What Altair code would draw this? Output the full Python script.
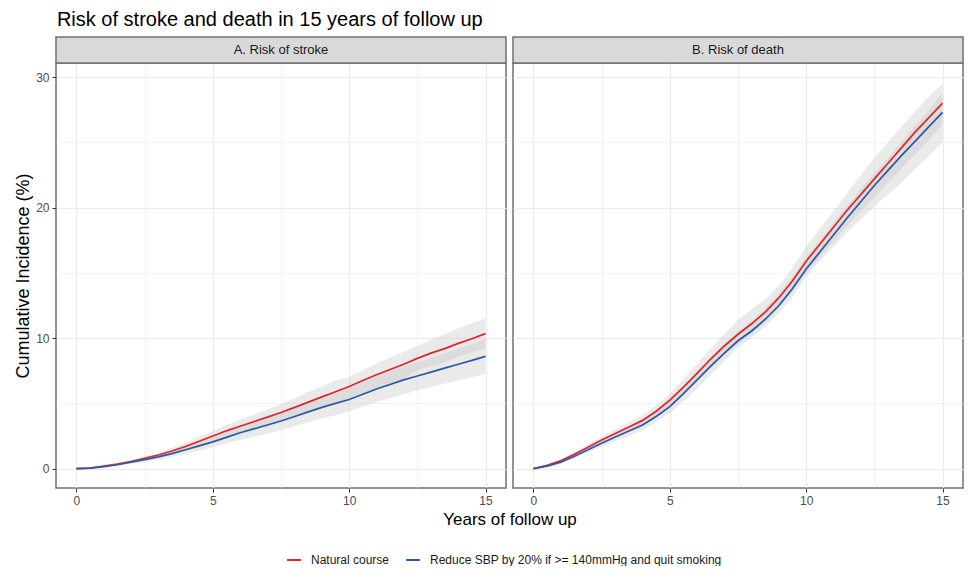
import altair as alt
import pandas as pd

FONT = "Liberation Sans"

years = [0, 0.5, 1, 1.5, 2, 2.5, 3, 3.5, 4, 4.5, 5, 5.5, 6, 6.5, 7, 7.5,
         8, 8.5, 9, 9.5, 10, 10.5, 11, 11.5, 12, 12.5, 13, 13.5, 14, 14.5, 15]

series_names = ["Natural course", "Reduce SBP by 20% if >= 140mmHg and quit smoking"]
panel_names = ["A. Risk of stroke", "B. Risk of death"]

# Panel A: risk of stroke
stroke_nat = [0, 0.05, 0.2, 0.35, 0.55, 0.8, 1.05, 1.35, 1.7, 2.1, 2.5, 2.9, 3.25, 3.6, 3.95, 4.3,
              4.7, 5.1, 5.5, 5.9, 6.3, 6.75, 7.2, 7.6, 8.0, 8.45, 8.85, 9.2, 9.6, 9.95, 10.35]
stroke_nat_lo = [0, 0.03, 0.15, 0.27, 0.45, 0.66, 0.87, 1.12, 1.42, 1.76, 2.12, 2.47, 2.76, 3.06, 3.36, 3.66,
                 4.0, 4.33, 4.7, 5.03, 5.38, 5.75, 6.15, 6.5, 6.85, 7.55, 7.85, 8.15, 8.55, 8.9, 9.25]
stroke_nat_hi = [0, 0.07, 0.25, 0.43, 0.65, 0.94, 1.23, 1.58, 1.98, 2.44, 2.88, 3.33, 3.74, 4.14, 4.54, 4.94,
                 5.4, 5.87, 6.3, 6.77, 7.0, 7.55, 8.05, 8.5, 8.95, 9.4, 9.9, 10.3, 10.75, 11.15, 11.5]
stroke_red = [0, 0.04, 0.15, 0.3, 0.5, 0.7, 0.9, 1.15, 1.45, 1.75, 2.05, 2.4, 2.75, 3.05, 3.35, 3.65,
              4.0, 4.35, 4.7, 5.0, 5.3, 5.7, 6.1, 6.45, 6.8, 7.1, 7.4, 7.7, 8.0, 8.3, 8.6]
stroke_red_lo = [0, 0.02, 0.1, 0.22, 0.38, 0.54, 0.7, 0.9, 1.15, 1.4, 1.65, 1.95, 2.2, 2.45, 2.7, 2.95,
                 3.25, 3.55, 3.85, 4.1, 4.4, 4.75, 5.1, 5.4, 5.7, 6.0, 6.25, 6.5, 6.75, 7.0, 7.25]
stroke_red_hi = [0, 0.06, 0.2, 0.38, 0.62, 0.86, 1.1, 1.4, 1.75, 2.1, 2.45, 2.85, 3.25, 3.6, 3.95, 4.3,
                 4.7, 5.1, 5.5, 5.85, 6.2, 6.65, 7.1, 7.5, 7.85, 8.15, 8.5, 8.85, 9.2, 9.55, 9.9]

# Panel B: risk of death
death_nat = [0, 0.25, 0.6, 1.1, 1.65, 2.2, 2.7, 3.2, 3.7, 4.4, 5.25, 6.25, 7.3, 8.4, 9.4, 10.3,
             11.1, 12.0, 13.1, 14.4, 15.9, 17.2, 18.5, 19.8, 21.0, 22.2, 23.4, 24.6, 25.8, 26.9, 28.0]
death_nat_lo = [0, 0.18, 0.48, 0.95, 1.45, 1.95, 2.4, 2.85, 3.3, 3.95, 4.75, 5.7, 6.7, 7.75, 8.7, 9.55,
                10.35, 11.2, 12.3, 13.55, 15.0, 16.2, 17.4, 18.6, 19.7, 20.8, 21.9, 23.0, 24.1, 25.2, 26.4]
death_nat_hi = [0, 0.32, 0.72, 1.25, 1.85, 2.45, 3.0, 3.55, 4.1, 4.85, 5.75, 6.85, 8.0, 9.2, 10.3, 11.4,
                12.2, 13.0, 14.0, 15.4, 17.0, 18.4, 19.7, 21.1, 22.5, 23.8, 25.0, 26.2, 27.4, 28.5, 29.5]
death_red = [0, 0.2, 0.5, 0.95, 1.45, 1.95, 2.42, 2.88, 3.35, 4.0, 4.75, 5.75, 6.8, 7.85, 8.85, 9.8,
             10.55, 11.45, 12.5, 13.8, 15.3, 16.6, 17.9, 19.2, 20.45, 21.7, 22.85, 24.0, 25.1, 26.2, 27.3]
death_red_lo = [0, 0.14, 0.38, 0.78, 1.22, 1.68, 2.1, 2.5, 2.95, 3.55, 4.25, 5.15, 6.15, 7.2, 8.25, 9.3,
                10.05, 10.9, 11.9, 13.15, 14.7, 15.9, 17.0, 18.1, 19.1, 20.1, 21.0, 21.95, 22.95, 23.95, 25.0]
death_red_hi = [0, 0.26, 0.62, 1.12, 1.68, 2.22, 2.74, 3.26, 3.75, 4.45, 5.25, 6.35, 7.45, 8.6, 9.55, 10.5,
                11.3, 12.3, 13.4, 14.7, 16.2, 17.5, 18.8, 20.1, 21.4, 22.6, 23.8, 25.0, 26.3, 27.5, 28.8]

RED = "#E0262B"
BLUE = "#2A59A6"

rows = []
panel_data = [
    (panel_names[0], [(series_names[0], stroke_nat, stroke_nat_lo, stroke_nat_hi),
                      (series_names[1], stroke_red, stroke_red_lo, stroke_red_hi)]),
    (panel_names[1], [(series_names[0], death_nat, death_nat_lo, death_nat_hi),
                      (series_names[1], death_red, death_red_lo, death_red_hi)]),
]
for pname, sers in panel_data:
    for sname, vals, lo, hi in sers:
        for yr, v, l, h in zip(years, vals, lo, hi):
            rows.append({"panel": pname, "series": sname, "year": yr,
                         "value": v, "lo": l, "hi": h})
df = pd.DataFrame(rows)

W = 450
H = 425
SP = 7
xscale = alt.Scale(domain=[-0.75, 15.75], nice=False, zero=False)
yscale = alt.Scale(domain=[-1.48, 31.08], nice=False, zero=False)

minor_x = "datum.value % 5 !== 0"
minor_y = "datum.value % 10 !== 0"


def xaxis(show_title):
    kw = dict(
        values=[0, 2.5, 5, 7.5, 10, 12.5, 15],
        labelExpr="datum.value % 5 === 0 ? datum.label : ''",
        tickOpacity={"condition": {"test": minor_x, "value": 0}, "value": 1},
        gridWidth={"condition": {"test": minor_x, "value": 0.6}, "value": 1.1},
        grid=True,
        gridColor="#EBEBEB",
        domain=False,
        tickColor="#333333",
        tickSize=4,
        labelFont=FONT,
        labelFontSize=12,
        labelColor="#4D4D4D",
        labelPadding=3,
    )
    if show_title:
        kw.update(title="Years of follow up", titleFont=FONT, titleFontSize=17,
                  titleFontWeight="normal", titleColor="black",
                  titleX=(2 * W + SP) / 2, titleY=23, titleBaseline="top",
                  titleAnchor="middle")
    else:
        kw.update(title=None)
    return alt.Axis(**kw)


def yaxis(show):
    if not show:
        return alt.Axis(
            values=[0, 5, 10, 15, 20, 25, 30],
            labels=False, ticks=False, domain=False, title=None,
            grid=True, gridColor="#EBEBEB",
            gridWidth={"condition": {"test": minor_y, "value": 0.6}, "value": 1.1},
        )
    return alt.Axis(
        values=[0, 5, 10, 15, 20, 25, 30],
        labelExpr="datum.value % 10 === 0 ? datum.label : ''",
        tickOpacity={"condition": {"test": minor_y, "value": 0}, "value": 1},
        gridWidth={"condition": {"test": minor_y, "value": 0.6}, "value": 1.1},
        grid=True, gridColor="#EBEBEB", domain=False,
        tickColor="#333333", tickSize=4,
        labelFont=FONT, labelFontSize=12, labelColor="#4D4D4D", labelPadding=3,
        title="Cumulative Incidence (%)", titleFont=FONT, titleFontSize=18,
        titleFontWeight="normal", titleColor="black", titlePadding=3,
    )


def panel(pname, width, first):
    d = df[df.panel == pname]
    base = alt.Chart(d)
    band = base.mark_area(fill="#BDBDBD", opacity=0.32).encode(
        x=alt.X("year:Q", scale=xscale, axis=xaxis(first)),
        y=alt.Y("lo:Q", scale=yscale, axis=yaxis(first)),
        y2="hi:Q",
        detail="series:N",
    )
    lines = base.mark_line(strokeWidth=1.7).encode(
        x=alt.X("year:Q", scale=xscale),
        y=alt.Y("value:Q", scale=yscale),
        color=alt.Color(
            "series:N",
            scale=alt.Scale(domain=series_names, range=[RED, BLUE]),
            legend=alt.Legend(
                title=None, orient="none", direction="horizontal",
                legendX=230, legendY=489,
                symbolType="stroke", symbolStrokeWidth=2, symbolSize=190,
                labelFont=FONT, labelFontSize=12, labelColor="#1A1A1A",
                labelLimit=0, labelOffset=9, columnPadding=12, symbolOffset=0,
            ) if first else None,
        ),
    )
    lab = pd.DataFrame({"label": [pname]})
    strip = alt.Chart(lab).mark_rect(fill="#D9D9D9", stroke="#707070", strokeWidth=1.5).encode(
        x=alt.value(0), x2=alt.value(width), y=alt.value(-26), y2=alt.value(0)
    )
    stext = alt.Chart(lab).mark_text(font=FONT, fontSize=13, color="#1A1A1A").encode(
        x=alt.value(width / 2), y=alt.value(-13), text="label:N"
    )
    return alt.layer(band, lines, strip, stext).properties(width=width, height=H)


left = panel(panel_names[0], W, True)
right = panel(panel_names[1], W, False)

chart = alt.hconcat(left, right, spacing=SP, bounds="flush").properties(
    title=alt.TitleParams(
        "Risk of stroke and death in 15 years of follow up",
        anchor="start", font=FONT, fontSize=20, fontWeight="normal",
        color="black", offset=6, dx=43,
    ),
    padding={"left": 5, "top": 1, "right": 0, "bottom": 0},
).configure_view(
    stroke="#707070", strokeWidth=1.5
).resolve_scale(color="shared")

chart.save("out.html", embed_options={"renderer": "svg", "actions": False})
